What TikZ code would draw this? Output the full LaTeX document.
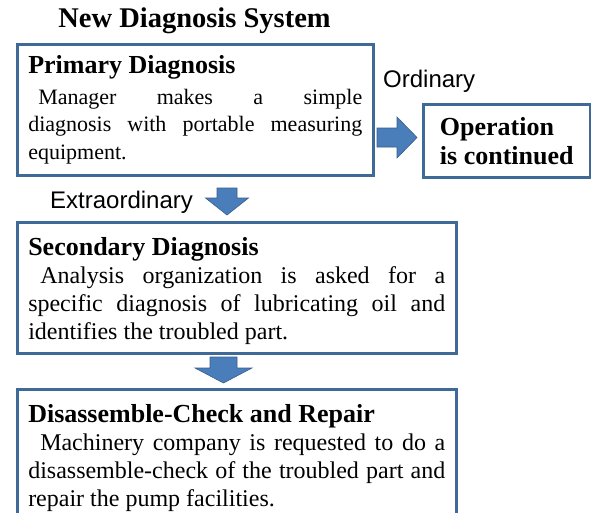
\documentclass[tikz,border=0pt]{standalone}
\usepackage{fontspec}
\setmainfont{Liberation Serif}
\newfontfamily\labelfont{Liberation Sans}
\usepackage{tikz}

\definecolor{boxblue}{HTML}{3F6A98}
\definecolor{arrowfill}{HTML}{4A7EBB}
\definecolor{arrowedge}{HTML}{385D8A}

\tikzstyle{box}=[draw=boxblue, line width=2.5pt, rectangle, anchor=north west,
    inner xsep=11pt, inner ysep=0pt, align=justify,
    font=\fontsize{22}{27.5}\selectfont]
\tikzstyle{widebox}=[box, text width=417pt, minimum width=439pt,
    font=\fontsize{24}{28}\selectfont]
\tikzstyle{blockarrow}=[fill=arrowfill, draw=arrowedge, line width=0.6pt, line join=miter]
\tikzstyle{branch}=[anchor=base west, inner sep=0pt, font=\labelfont\fontsize{24}{28}\selectfont]
% heading line of a box, optional strut pushes it down
\newcommand{\head}[2][0pt]{{\fontsize{26}{28}\selectfont\bfseries\rule{0pt}{#1}#2}\par}

\begin{document}
\begin{tikzpicture}[x=1pt, y=-1pt]
    \useasboundingbox (0,0) rectangle (591,512);
    \clip (0,0) rectangle (591,512);

    % title
    \node[anchor=base, inner sep=0pt, font=\fontsize{28.5}{30}\selectfont\bfseries]
        (title) at (194.5,27) {New Diagnosis System};

    % the three stages
    \node[box, text width=334pt, minimum width=356pt, minimum height=131pt]
        (primary) at (16,43) {\vspace*{3pt}\head{Primary Diagnosis}
        \hspace*{10pt}Manager makes a simple\linebreak
        diagnosis with portable measuring\linebreak
        equipment.};
    \node[widebox, minimum height=131pt]
        (secondary) at (16,221) {\head[25pt]{Secondary Diagnosis}
        \hspace*{12pt}Analysis organization is asked for a\linebreak
        specific diagnosis of lubricating oil and\linebreak
        identifies the troubled part.};
    \node[widebox, minimum height=138pt]
        (repair) at (16,388) {\head{Disassemble-Check and Repair}
        \hspace*{12pt}Machinery company is requested to do a\linebreak
        disassemble-check of the troubled part and\linebreak
        repair the pump facilities.};

    % outcome for the ordinary case
    \node[box, align=left, minimum width=167pt, minimum height=73pt,
          font=\fontsize{26}{29}\selectfont\bfseries]
        (continued) at (422,103) {Operation\\is continued};

    % branch labels
    \node[branch] (ordinary) at (383,87) {Ordinary};
    \node[branch] (extra) at (50,208) {Extraordinary};

    % block arrows
    \draw[blockarrow] (377,128) -- (397,128) -- (397,117) -- (417,137.5)
        -- (397,158) -- (397,147) -- (377,147) -- cycle;
    \draw[blockarrow] (217,188) -- (237,188) -- (237,198) -- (248.5,198)
        -- (227,215) -- (205.5,198) -- (217,198) -- cycle;
    \draw[blockarrow] (210,357) -- (237,357) -- (237,368) -- (252,368)
        -- (223.5,383) -- (195,368) -- (210,368) -- cycle;
\end{tikzpicture}
\end{document}
